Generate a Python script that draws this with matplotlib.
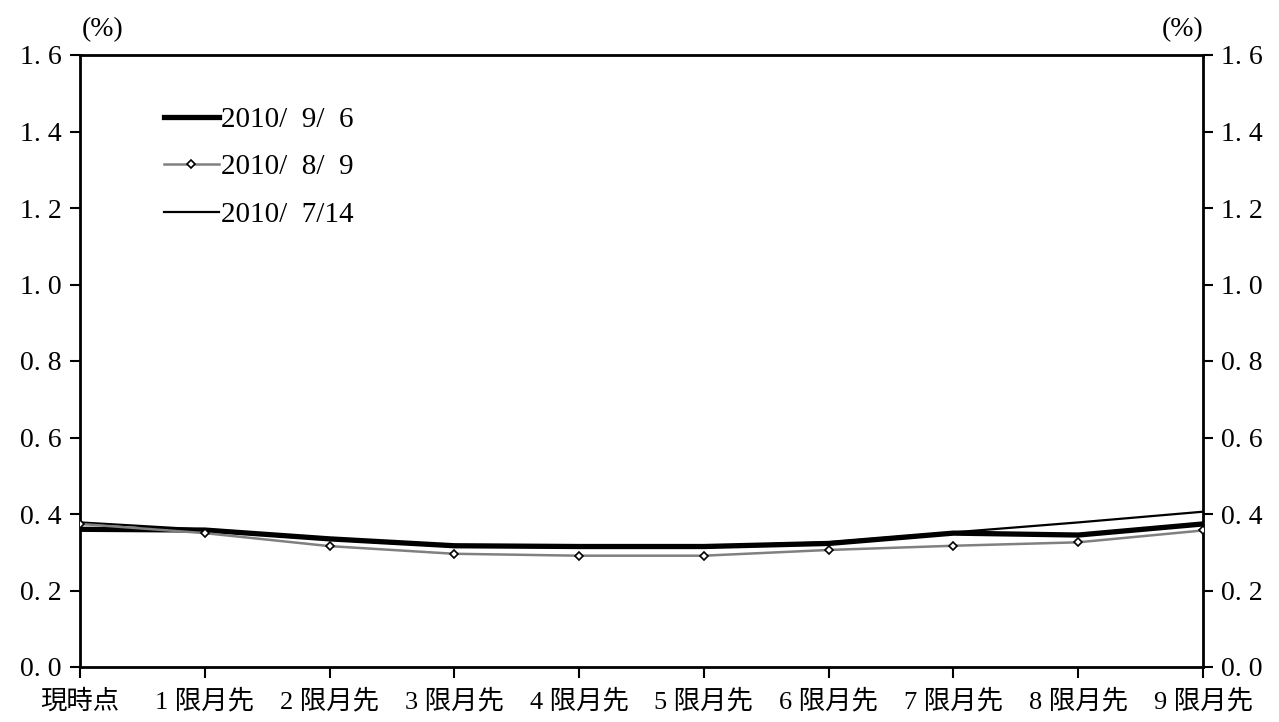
import matplotlib
matplotlib.use("Agg")
import matplotlib.pyplot as plt
from matplotlib.ticker import FixedLocator, FuncFormatter

plt.rcParams['font.family'] = ['Liberation Serif', 'Noto Sans CJK JP', 'DejaVu Sans']

categories = ["現時点", "1 限月先", "2 限月先", "3 限月先", "4 限月先",
              "5 限月先", "6 限月先", "7 限月先", "8 限月先", "9 限月先"]
s_0906 = [0.360, 0.358, 0.335, 0.317, 0.315, 0.315, 0.323, 0.350, 0.345, 0.374]
s_0809 = [0.374, 0.350, 0.316, 0.296, 0.291, 0.291, 0.306, 0.317, 0.326, 0.357]
s_0714 = [0.378, 0.359, 0.333, 0.315, 0.313, 0.316, 0.326, 0.352, 0.378, 0.406]
labels = ["2010/  9/  6", "2010/  8/  9", "2010/  7/14"]
yticks = [0.0, 0.2, 0.4, 0.6, 0.8, 1.0, 1.2, 1.4, 1.6]

fig = plt.figure(figsize=(12.79, 7.22), dpi=100)
ax = fig.add_axes([80/1279, 1-667/722, (1203-80)/1279, (667-55)/722])
x = list(range(len(categories)))

h3, = ax.plot(x, s_0714, color='black', lw=1.6, zorder=3, label=labels[2])
h1, = ax.plot(x, s_0906, color='black', lw=3.8, zorder=4, label=labels[0])
h2, = ax.plot(x, s_0809, color='#808080', lw=1.8, marker='D', ms=4.5,
              mfc='white', mec='black', mew=1.2, zorder=5, label=labels[1])

ax.set_xlim(0, 9)
ax.set_ylim(0, 1.6)
ax.xaxis.set_major_locator(FixedLocator(x))
ax.set_xticklabels([])
for xi, c in zip(x, categories):
    ax.text(xi, -0.09, c, ha='center', va='center', fontsize=19,
            transform=ax.transData, clip_on=False)

fmt = FuncFormatter(lambda v, p: f"{v:.1f}".replace('.', '. '))
ax.yaxis.set_major_locator(FixedLocator(yticks))
ax.yaxis.set_major_formatter(fmt)
ax.tick_params(axis='y', direction='out', length=7, width=1.5, labelsize=20,
               left=True, right=True, labelleft=True, labelright=True, pad=6)
ax.tick_params(axis='x', direction='out', length=8, width=1.5)
for s in ax.spines.values():
    s.set_linewidth(2)
    s.set_color('black')

fig.text(103/1279, 1-30/722, "(%)", ha='center', va='center', fontsize=20)
fig.text(1183/1279, 1-30/722, "(%)", ha='center', va='center', fontsize=20)

leg = ax.legend(handles=[h1, h2, h3], loc='upper left',
                bbox_to_anchor=(72/1123, 1-40/612), frameon=False,
                fontsize=21, handlelength=1.9, handletextpad=0.08,
                labelspacing=0.72, borderaxespad=0)

fig.savefig("out.png", dpi=100)
